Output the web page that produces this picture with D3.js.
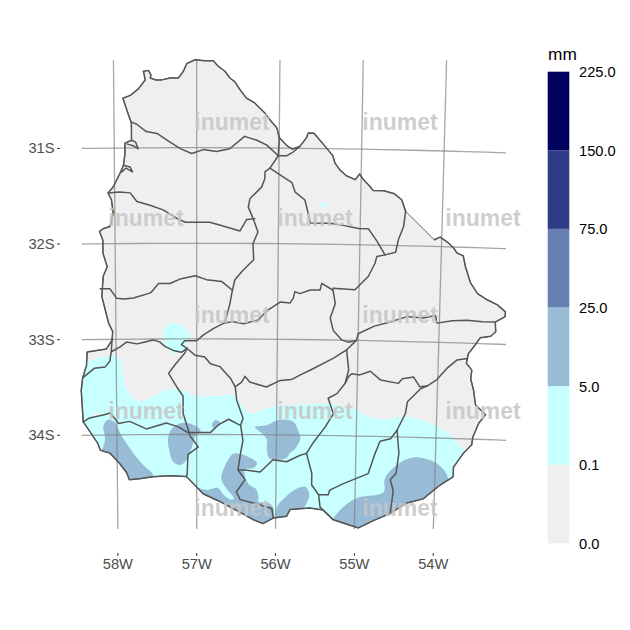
<!DOCTYPE html>
<html>
<head>
<meta charset="utf-8">
<script src="https://cdn.jsdelivr.net/npm/d3@7"></script>
<style>
  body { margin: 0; background: #fff; }
  text { font-family: "Liberation Sans", Arial, sans-serif; }
</style>
</head>
<body>
<svg id="chart" width="630" height="630"></svg>
<script>
// country border, lon/lat, north part down to the thin straight stretch
const borderNorth = [[-57.64,-30.20],[-57.58,-30.19],[-57.55,-30.24],[-57.56,-30.27],[-57.49,-30.29],[-57.42,-30.29],[-57.32,-30.27],[-57.22,-30.27],[-57.16,-30.20],[-57.12,-30.12],[-57.02,-30.08],[-56.90,-30.09],[-56.80,-30.09],[-56.74,-30.15],[-56.66,-30.20],[-56.60,-30.27],[-56.54,-30.31],[-56.48,-30.39],[-56.40,-30.48],[-56.30,-30.53],[-56.23,-30.59],[-56.17,-30.64],[-56.11,-30.71],[-56.03,-30.79],[-56.00,-30.89],[-55.91,-30.97],[-55.84,-31.01],[-55.75,-30.98],[-55.67,-30.89],[-55.65,-30.84],[-55.58,-30.84],[-55.53,-30.89],[-55.42,-31.00],[-55.35,-31.07],[-55.32,-31.15],[-55.26,-31.22],[-55.18,-31.28],[-55.07,-31.32],[-55.02,-31.26],[-54.97,-31.32],[-54.91,-31.37],[-54.85,-31.43],[-54.72,-31.43],[-54.59,-31.46],[-54.50,-31.52],[-54.45,-31.64]];
const borderSouth = [[-54.09,-31.93],[-54.02,-31.90],[-53.93,-31.95],[-53.85,-32.01],[-53.81,-32.06],[-53.73,-32.09],[-53.70,-32.20],[-53.63,-32.37],[-53.54,-32.48],[-53.42,-32.54],[-53.29,-32.59],[-53.19,-32.66],[-53.19,-32.71],[-53.31,-32.77],[-53.30,-32.87],[-53.36,-32.92],[-53.49,-32.94],[-53.56,-33.03],[-53.63,-33.11],[-53.64,-33.16],[-53.65,-33.21],[-53.58,-33.28],[-53.59,-33.37],[-53.55,-33.49],[-53.52,-33.64],[-53.39,-33.74],[-53.47,-33.83],[-53.54,-33.98],[-53.55,-34.06],[-53.65,-34.15],[-53.77,-34.30],[-53.77,-34.40],[-53.93,-34.49],[-54.14,-34.64],[-54.35,-34.69],[-54.55,-34.80],[-54.76,-34.88],[-54.95,-34.96],[-55.27,-34.88],[-55.40,-34.78],[-55.57,-34.76],[-55.82,-34.78],[-55.86,-34.85],[-56.03,-34.87],[-56.16,-34.93],[-56.28,-34.89],[-56.39,-34.84],[-56.71,-34.70],[-56.92,-34.62],[-57.00,-34.55],[-57.13,-34.44],[-57.34,-34.43],[-57.55,-34.44],[-57.72,-34.46],[-57.85,-34.47],[-57.88,-34.40],[-57.97,-34.30],[-58.09,-34.19],[-58.21,-34.16],[-58.24,-34.09],[-58.34,-33.96],[-58.42,-33.86],[-58.44,-33.53],[-58.42,-33.40],[-58.37,-33.27],[-58.36,-33.13],[-58.12,-33.10],[-58.05,-33.01],[-58.04,-32.92],[-58.09,-32.83],[-58.13,-32.69],[-58.17,-32.55],[-58.15,-32.34],[-58.10,-32.24],[-58.15,-32.10],[-58.15,-31.96],[-58.19,-31.87],[-58.14,-31.84],[-58.06,-31.82],[-58.02,-31.68],[-58.04,-31.54],[-58.08,-31.47],[-58.02,-31.41],[-57.93,-31.26],[-57.89,-31.18],[-57.87,-31.06],[-57.87,-30.95],[-57.79,-30.92],[-57.79,-30.74],[-57.83,-30.64],[-57.89,-30.48],[-57.80,-30.45],[-57.70,-30.38],[-57.62,-30.29],[-57.64,-30.20]];

// department limits, lon/lat
const departmentLines = [
  [[-57.79,-30.73],[-57.73,-30.75],[-57.61,-30.83],[-57.48,-30.85],[-57.36,-30.92],[-57.20,-31.01],[-57.06,-31.06],[-56.92,-31.02],[-56.76,-31.04],[-56.60,-31.01],[-56.42,-30.88],[-56.27,-30.92],[-56.15,-30.97],[-56.01,-31.08],[-56.00,-30.89]],
  [[-56.01,-31.08],[-55.91,-31.08],[-55.83,-31.04],[-55.75,-30.98]],
  [[-58.08,-31.47],[-57.94,-31.46],[-57.81,-31.47],[-57.73,-31.56],[-57.57,-31.60],[-57.41,-31.65],[-57.24,-31.74],[-57.14,-31.78],[-56.98,-31.78],[-56.84,-31.78],[-56.71,-31.81],[-56.47,-31.87],[-56.39,-31.75],[-56.29,-31.74]],
  [[-56.01,-31.08],[-56.11,-31.21],[-56.17,-31.25],[-56.17,-31.32],[-56.21,-31.41],[-56.35,-31.53],[-56.37,-31.62],[-56.31,-31.74],[-56.25,-31.88],[-56.31,-32.00],[-56.30,-32.17],[-56.43,-32.28],[-56.53,-32.38],[-56.56,-32.49],[-56.59,-32.63],[-56.65,-32.83]],
  [[-58.19,-32.47],[-58.07,-32.47],[-57.99,-32.57],[-57.89,-32.58],[-57.78,-32.57],[-57.58,-32.52],[-57.56,-32.51],[-57.47,-32.42],[-57.33,-32.42],[-57.19,-32.37],[-57.02,-32.34],[-56.88,-32.38],[-56.69,-32.40],[-56.56,-32.49]],
  [[-55.32,-32.48],[-55.46,-32.41],[-55.48,-32.48],[-55.60,-32.48],[-55.73,-32.52],[-55.79,-32.50],[-55.81,-32.57],[-55.85,-32.62],[-55.97,-32.61],[-56.13,-32.70],[-56.24,-32.80],[-56.42,-32.84],[-56.55,-32.82],[-56.65,-32.83],[-56.79,-32.89],[-56.92,-32.96],[-57.00,-33.02],[-57.15,-33.02],[-57.19,-33.06],[-57.12,-33.10]],
  [[-58.05,-33.01],[-58.06,-33.13],[-57.95,-33.08],[-57.87,-33.03],[-57.74,-33.05],[-57.64,-33.03],[-57.54,-33.01],[-57.46,-33.03],[-57.39,-33.08],[-57.29,-33.12],[-57.19,-33.14],[-57.12,-33.10]],
  [[-58.42,-33.40],[-58.27,-33.30],[-58.14,-33.29],[-58.08,-33.23],[-58.06,-33.13]],
  [[-58.42,-33.86],[-58.34,-33.82],[-58.17,-33.79],[-58.08,-33.77],[-57.98,-33.88],[-57.84,-33.86],[-57.63,-33.94],[-57.38,-33.88],[-57.23,-33.92],[-57.11,-33.98],[-56.83,-33.98],[-56.73,-33.90],[-56.60,-33.84],[-56.46,-33.90]],
  [[-57.12,-33.10],[-57.15,-33.15],[-57.27,-33.27],[-57.35,-33.36],[-57.25,-33.50],[-57.17,-33.60],[-57.17,-33.78],[-57.11,-33.94],[-57.08,-34.02],[-56.98,-34.13],[-57.11,-34.21],[-57.12,-34.41],[-57.13,-34.44]],
  [[-57.12,-33.10],[-57.02,-33.17],[-56.90,-33.19],[-56.83,-33.26],[-56.71,-33.29],[-56.58,-33.41],[-56.52,-33.50],[-56.50,-33.64],[-56.42,-33.83],[-56.45,-33.90],[-56.42,-34.06],[-56.45,-34.20],[-56.48,-34.37],[-56.39,-34.47],[-56.50,-34.60],[-56.45,-34.68],[-56.26,-34.72],[-56.05,-34.77],[-56.03,-34.87]],
  [[-56.48,-34.37],[-56.39,-34.37],[-56.20,-34.39],[-56.04,-34.26],[-55.87,-34.28],[-55.70,-34.21],[-55.62,-34.19]],
  [[-56.52,-33.50],[-56.44,-33.45],[-56.40,-33.39],[-56.34,-33.45],[-56.13,-33.50],[-55.96,-33.43],[-55.82,-33.42],[-55.71,-33.37],[-55.59,-33.32],[-55.30,-33.19],[-55.14,-33.10]],
  [[-55.14,-33.10],[-55.11,-33.31],[-55.15,-33.45],[-55.25,-33.56],[-55.36,-33.61],[-55.29,-33.77],[-55.39,-33.91],[-55.54,-34.08],[-55.62,-34.19],[-55.55,-34.40],[-55.55,-34.52],[-55.46,-34.62],[-55.44,-34.75],[-55.27,-34.88]],
  [[-55.46,-34.62],[-55.34,-34.62],[-55.32,-34.57],[-55.15,-34.50],[-54.84,-34.39],[-54.76,-34.18],[-54.70,-34.05],[-54.57,-34.02],[-54.49,-33.93]],
  [[-54.49,-33.93],[-54.46,-34.17],[-54.49,-34.38],[-54.56,-34.45],[-54.52,-34.56],[-54.54,-34.73],[-54.55,-34.80]],
  [[-54.49,-33.93],[-54.39,-33.75],[-54.37,-33.63],[-54.21,-33.49],[-54.13,-33.46],[-54.01,-33.39],[-53.89,-33.27],[-53.77,-33.18],[-53.64,-33.16]],
  [[-54.13,-33.46],[-54.22,-33.47],[-54.30,-33.37],[-54.44,-33.39],[-54.49,-33.44],[-54.71,-33.41],[-54.84,-33.32],[-54.97,-33.36],[-55.07,-33.35],[-55.11,-33.38],[-55.15,-33.45]],
  [[-53.31,-32.77],[-53.47,-32.77],[-53.66,-32.76],[-53.84,-32.77],[-54.03,-32.80],[-54.05,-32.72],[-54.20,-32.75],[-54.40,-32.74],[-54.61,-32.80],[-54.81,-32.85],[-55.00,-32.93],[-55.02,-33.00],[-55.14,-33.10]],
  [[-55.02,-33.00],[-55.12,-33.02],[-55.20,-33.00],[-55.31,-32.90],[-55.35,-32.77],[-55.29,-32.62],[-55.32,-32.48]],
  [[-55.32,-32.46],[-55.05,-32.47],[-54.89,-32.33],[-54.81,-32.19],[-54.79,-32.12],[-54.69,-32.10],[-54.56,-32.07],[-54.53,-31.94],[-54.47,-31.80],[-54.45,-31.64]],
  [[-54.69,-32.10],[-54.79,-31.96],[-54.90,-31.83],[-55.02,-31.83],[-55.21,-31.80],[-55.37,-31.78],[-55.61,-31.78],[-55.65,-31.64],[-55.68,-31.54],[-55.80,-31.46],[-55.84,-31.36],[-55.95,-31.30],[-56.11,-31.21]],
  [[-57.79,-30.92],[-57.74,-30.94],[-57.71,-31.01],[-57.76,-30.98],[-57.84,-30.96]],
  [[-57.89,-31.18],[-57.81,-31.20],[-57.78,-31.25],[-57.86,-31.21],[-57.91,-31.25]]
];

// rain areas: 0.1 to 5 mm and 5 to 25 mm
const rainLow = [
  [[-58.58,-33.23],[-58.36,-33.23],[-58.20,-33.19],[-58.10,-33.18],[-58.02,-33.16],[-57.95,-33.23],[-57.91,-33.39],[-57.87,-33.53],[-57.79,-33.62],[-57.67,-33.65],[-57.54,-33.60],[-57.37,-33.53],[-57.21,-33.53],[-57.00,-33.60],[-56.79,-33.60],[-56.54,-33.59],[-56.46,-33.66],[-56.33,-33.78],[-56.12,-33.72],[-55.92,-33.69],[-55.83,-33.69],[-55.42,-33.67],[-55.08,-33.70],[-54.87,-33.79],[-54.66,-33.82],[-54.41,-33.79],[-54.16,-33.82],[-53.95,-33.90],[-53.78,-34.00],[-53.65,-34.11],[-53.44,-34.22],[-53.55,-34.64],[-54.16,-35.07],[-56.32,-35.15],[-58.35,-34.68],[-58.59,-33.94]],
  [[-57.41,-32.92],[-57.35,-32.85],[-57.23,-32.84],[-57.12,-32.91],[-57.09,-32.98],[-57.12,-33.06],[-57.19,-33.13],[-57.29,-33.15],[-57.37,-33.08],[-57.41,-33.01]],
  [[-55.48,-31.57],[-55.43,-31.57],[-55.43,-31.61],[-55.48,-31.61]]
];
const rainDry = [
  [[-58.30,-33.77],[-58.23,-33.76],[-58.21,-33.79],[-58.27,-33.81]]
];
const rainMid = [
  [[-58.17,-33.91],[-58.11,-33.84],[-58.02,-33.87],[-57.96,-33.98],[-57.84,-34.14],[-57.67,-34.32],[-57.55,-34.42],[-57.55,-34.53],[-57.91,-34.58],[-58.22,-34.21],[-58.17,-34.12],[-58.15,-34.02]],
  [[-57.36,-34.04],[-57.31,-33.94],[-57.19,-33.88],[-57.04,-33.90],[-56.95,-33.96],[-57.02,-34.02],[-57.06,-34.13],[-57.13,-34.27],[-57.21,-34.32],[-57.30,-34.28],[-57.34,-34.18]],
  [[-56.81,-33.90],[-56.77,-33.85],[-56.71,-33.87],[-56.72,-33.91],[-56.79,-33.93]],
  [[-56.64,-34.32],[-56.54,-34.20],[-56.46,-34.20],[-56.31,-34.25],[-56.24,-34.30],[-56.29,-34.35],[-56.39,-34.36],[-56.39,-34.44],[-56.34,-34.52],[-56.25,-34.57],[-56.22,-34.65],[-56.22,-34.70],[-56.09,-34.71],[-56.03,-34.77],[-56.04,-34.91],[-56.28,-35.00],[-56.45,-34.89],[-56.66,-34.79],[-56.96,-34.69],[-57.15,-34.58],[-57.00,-34.56],[-56.87,-34.58],[-56.73,-34.56],[-56.66,-34.63],[-56.57,-34.68],[-56.53,-34.67],[-56.63,-34.56],[-56.69,-34.46]],
  [[-56.27,-33.92],[-56.12,-33.90],[-55.96,-33.84],[-55.79,-33.86],[-55.73,-33.95],[-55.70,-34.03],[-55.76,-34.14],[-55.83,-34.19],[-55.87,-34.24],[-56.08,-34.25],[-56.12,-34.16],[-56.12,-34.05],[-56.19,-33.98]],
  [[-55.98,-34.75],[-55.88,-34.65],[-55.74,-34.56],[-55.63,-34.54],[-55.58,-34.61],[-55.61,-34.71],[-55.73,-34.84],[-55.98,-34.89]],
  [[-55.27,-34.87],[-55.14,-34.74],[-54.98,-34.65],[-54.64,-34.58],[-54.63,-34.44],[-54.48,-34.29],[-54.28,-34.21],[-54.02,-34.25],[-53.87,-34.35],[-53.83,-34.42],[-53.74,-34.56],[-54.13,-34.83],[-54.95,-35.09],[-55.31,-34.99]]
];

const lonTicks = [-58, -57, -56, -55, -54];
const latTicks = [-31, -32, -33, -34];

const legendBreaks = ["0.0", "0.1", "5.0", "25.0", "75.0", "150.0", "225.0"];
const legendColors = ["#EFEFEF", "#C8FFFF", "#98BBD6", "#6580B0", "#2F3C87", "#00005F"];

const mapColors = { dry: "#EFEFEF", low: "#C8FFFF", mid: "#98BBD6" };

// map projection: UTM style centred on 57W, then fitted to the picture
const proj = d3.geoTransverseMercator().rotate([57, 0]).scale(5477.4).translate([0, 0]);
const base = proj([-57, -31]);
const xMap = d3.scaleLinear().domain([base[0], base[0] + 1]).range([196.7, 197.7063]);
const yMap = d3.scaleLinear().domain([base[1], base[1] + 1]).range([147.7, 148.7]);
const toPx = d => { const p = proj(d); return [xMap(p[0]), yMap(p[1])]; };
const pathOf = d3.line().x(d => toPx(d)[0]).y(d => toPx(d)[1]);
const blobOf = d3.line().x(d => toPx(d)[0]).y(d => toPx(d)[1]).curve(d3.curveCatmullRomClosed.alpha(0.5));

const svg = d3.select("#chart");
const country = borderNorth.concat(borderSouth);

const defs = svg.append("defs");
defs.append("clipPath").attr("id", "countryClip").append("path").attr("d", pathOf(country) + "Z");
defs.append("clipPath").attr("id", "panelClip").append("rect")
  .attr("x", 81.7).attr("y", 60).attr("width", 424.3).attr("height", 469);

svg.append("path").attr("d", pathOf(country) + "Z").attr("fill", mapColors.dry);

const rain = svg.append("g").attr("clip-path", "url(#countryClip)");
const drawRain = (areas, color) => rain.append("g").selectAll("path").data(areas).join("path")
  .attr("d", blobOf).attr("fill", color);
drawRain(rainLow, mapColors.low);
drawRain(rainDry, mapColors.dry);
drawRain(rainMid, mapColors.mid);

// graticule
const grid = svg.append("g").attr("clip-path", "url(#panelClip)")
  .attr("fill", "none").attr("stroke", "#808080").attr("stroke-opacity", 0.7).attr("stroke-width", 1.3);
grid.selectAll(".par").data(latTicks).join("path").attr("class", "par")
  .attr("d", lat => pathOf(d3.range(-59, -52.9, 0.25).map(lon => [lon, lat])));
grid.selectAll(".mer").data(lonTicks).join("path").attr("class", "mer")
  .attr("d", lon => pathOf(d3.range(-29.5, -35.6, -0.25).map(lat => [lon, lat])));

// department lines and border
const lines = svg.append("g").attr("fill", "none").attr("stroke", "#555555")
  .attr("stroke-linejoin", "round").attr("stroke-linecap", "round");
lines.append("path").attr("d", pathOf(country) + "Z").attr("stroke-width", 0.9);
lines.selectAll(".dep").data([borderNorth, borderSouth].concat(departmentLines)).join("path").attr("class", "dep")
  .attr("d", pathOf).attr("stroke-width", 1.5);

// watermark
const markCols = [
  { row: 130, cols: [232, 400] },
  { row: 226, cols: [146, 315, 483] },
  { row: 323, cols: [232, 400] },
  { row: 419, cols: [146, 315, 483] },
  { row: 516, cols: [232, 400] }
];
const marks = svg.append("g");
markCols.forEach(m => m.cols.forEach(c => {
  marks.append("text").attr("x", c).attr("y", m.row).attr("text-anchor", "middle")
    .attr("font-size", 23).attr("font-weight", "bold").attr("fill", "#C6C6C6").attr("fill-opacity", 0.85)
    .text("inumet");
}));

// axes
const axisColor = "#4D4D4D";
const ax = svg.append("g").attr("font-size", 14.67).attr("fill", axisColor);
lonTicks.forEach(lon => {
  const x = toPx([lon, -34.97])[0];
  ax.append("line").attr("x1", x).attr("x2", x).attr("y1", 553).attr("y2", 556).attr("stroke", "#333");
  ax.append("text").attr("x", x).attr("y", 569).attr("text-anchor", "middle").text(Math.abs(lon) + "W");
});
latTicks.forEach(lat => {
  const y = toPx([-58.44, lat])[1];
  ax.append("line").attr("x1", 57).attr("x2", 60).attr("y1", y).attr("y2", y).attr("stroke", "#333");
  ax.append("text").attr("x", 54.5).attr("y", y + 5).attr("text-anchor", "end").text(Math.abs(lat) + "S");
});

// legend
const legendY = d3.scalePoint().domain(legendBreaks).range([543.3, 71.7]);
const legend = svg.append("g");
legend.selectAll("rect").data(legendColors).join("rect")
  .attr("x", 547.7).attr("width", 21.6)
  .attr("y", (d, i) => legendY(legendBreaks[i + 1]))
  .attr("height", (d, i) => legendY(legendBreaks[i]) - legendY(legendBreaks[i + 1]))
  .attr("fill", d => d);
legend.selectAll("text").data(legendBreaks).join("text")
  .attr("x", 579).attr("y", d => legendY(d) + 5.5).attr("font-size", 14.67).attr("fill", "#000")
  .text(d => d);
svg.append("text").attr("x", 548).attr("y", 59.5).attr("font-size", 17.3).attr("fill", "#000").text("mm");
</script>
</body>
</html>
